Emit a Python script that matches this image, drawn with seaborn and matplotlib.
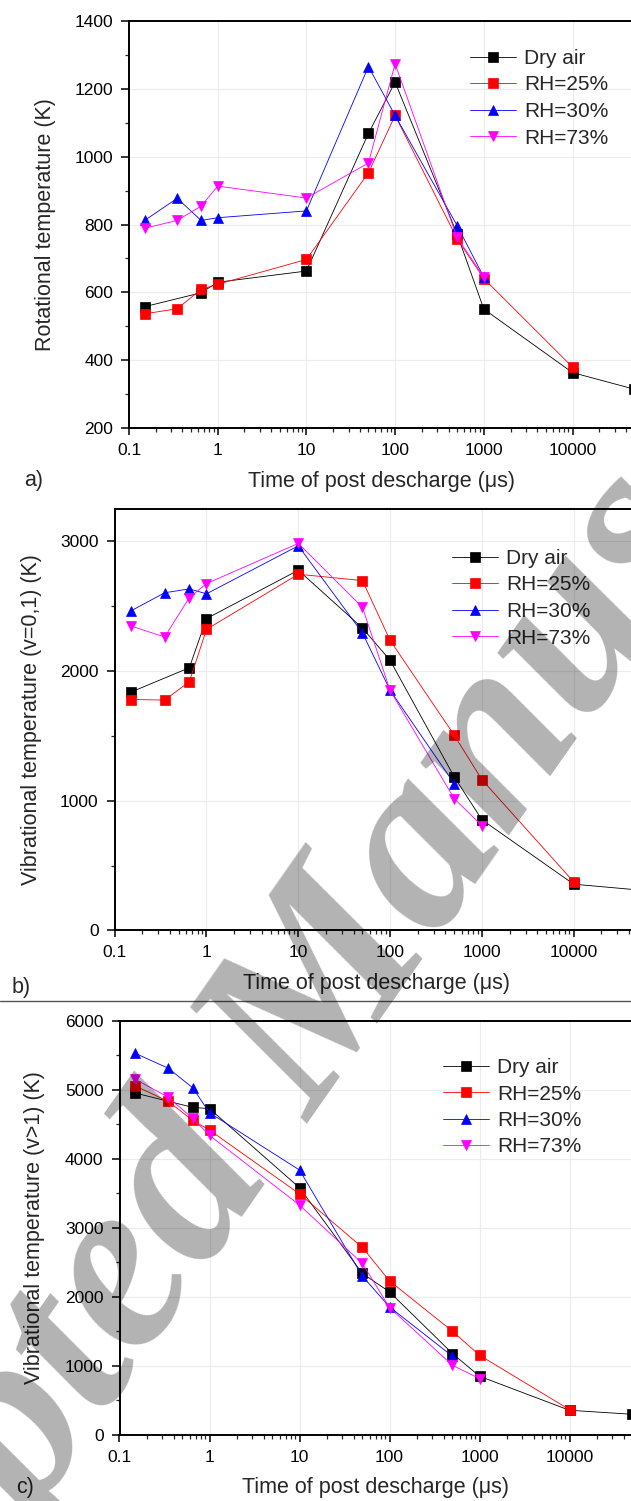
import numpy as np
import matplotlib
matplotlib.use("Agg")
import matplotlib.pyplot as plt
import seaborn as sns
from matplotlib.ticker import MultipleLocator, FuncFormatter, LogLocator, NullFormatter
from matplotlib.lines import Line2D

sns.set_style("ticks")
plt.rcParams['font.family'] = ['Liberation Sans', 'DejaVu Sans']

# ---------------- data ----------------
labels = ["Dry air", "RH=25%", "RH=30%", "RH=73%"]
colors = ["#000000", "#ff0000", "#0000ff", "#ff00ff"]
markers = ["s", "s", "^", "v"]

# panel a) rotational temperature
a_dry_x = [0.15, 0.65, 1, 10, 50, 100, 500, 1000, 10000, 50000]
a_dry_y = [558, 599, 630, 663, 1068, 1219, 772, 551, 364, 315]
a_rh25_x = [0.15, 0.35, 0.65, 1, 10, 50, 100, 500, 1000, 10000]
a_rh25_y = [537, 552, 609, 624, 697, 952, 1121, 758, 641, 380]
a_rh30_x = [0.15, 0.35, 0.65, 1, 10, 50, 100, 500, 1000]
a_rh30_y = [812, 877, 812, 820, 840, 1265, 1121, 797, 645]
a_rh73_x = [0.15, 0.35, 0.65, 1, 10, 50, 100, 500, 1000]
a_rh73_y = [789, 812, 854, 913, 878, 981, 1273, 762, 645]

# panel b) vibrational temperature (v=0,1)
b_dry_x = [0.15, 0.65, 1, 10, 50, 100, 500, 1000, 10000, 50000]
b_dry_y = [1838, 2026, 2405, 2778, 2332, 2083, 1184, 854, 357, 313]
b_rh25_x = [0.15, 0.35, 0.65, 1, 10, 50, 100, 500, 1000, 10000]
b_rh25_y = [1781, 1777, 1918, 2322, 2747, 2698, 2237, 1506, 1163, 375]
b_rh30_x = [0.15, 0.35, 0.65, 1, 10, 50, 100, 500]
b_rh30_y = [2464, 2604, 2634, 2596, 2966, 2294, 1852, 1132]
b_rh73_x = [0.15, 0.35, 0.65, 1, 10, 50, 100, 500, 1000]
b_rh73_y = [2348, 2263, 2567, 2675, 2985, 2492, 1851, 1016, 809]

# panel c) vibrational temperature (v>1)
c_dry_x = [0.15, 0.65, 1, 10, 50, 100, 500, 1000, 10000, 50000]
c_dry_y = [4952, 4745, 4726, 3581, 2339, 2073, 1180, 851, 358, 300]
c_rh25_x = [0.15, 0.35, 0.65, 1, 10, 50, 100, 500, 1000, 10000]
c_rh25_y = [5054, 4830, 4556, 4416, 3492, 2716, 2232, 1503, 1155, 368]
c_rh30_x = [0.15, 0.35, 0.65, 1, 10, 50, 100, 500]
c_rh30_y = [5527, 5310, 5029, 4667, 3837, 2300, 1855, 1141]
c_rh73_x = [0.15, 0.35, 0.65, 1, 10, 50, 100, 500, 1000]
c_rh73_y = [5151, 4890, 4586, 4340, 3330, 2484, 1846, 1010, 817]

xlabel = "Time of post descharge (μs)"
ylabels = ["Rotational temperature (K)",
           "Vibrational temperature (v=0,1) (K)",
           "Vibrational temperature (v>1) (K)"]
panel_tags = ["a)", "b)", "c)"]
watermark = "Accepted Manuscript"

# ---------------- layout (pixels) ----------------
W, H = 631, 1501
fig = plt.figure(figsize=(W / 100, H / 100), dpi=100)

panels = [
    dict(left=129.0, dec=88.7, top=20.7, bottom=428.3, ylim=(200, 1400), major=200, minor=100,
         series=[(a_dry_x, a_dry_y), (a_rh25_x, a_rh25_y), (a_rh30_x, a_rh30_y), (a_rh73_x, a_rh73_y)],
         ylab_x=46, leg=(470, 49), tag=(34, 481)),
    dict(left=114.7, dec=91.8, top=509.0, bottom=930.5, ylim=(0, 3250), major=1000, minor=500,
         series=[(b_dry_x, b_dry_y), (b_rh25_x, b_rh25_y), (b_rh30_x, b_rh30_y), (b_rh73_x, b_rh73_y)],
         ylab_x=32, leg=(452, 549), tag=(21, 987)),
    dict(left=119.5, dec=90.0, top=1020.7, bottom=1435.0, ylim=(0, 6000), major=1000, minor=500,
         series=[(c_dry_x, c_dry_y), (c_rh25_x, c_rh25_y), (c_rh30_x, c_rh30_y), (c_rh73_x, c_rh73_y)],
         ylab_x=35, leg=(443, 1058), tag=(25, 1488)),
]

xmin, xmax = 0.1, 5e4
ndec = np.log10(xmax / xmin)

for i, p in enumerate(panels):
    axw = p["dec"] * ndec
    axh = p["bottom"] - p["top"]
    ax = fig.add_axes([p["left"] / W, 1 - p["bottom"] / H, axw / W, axh / H])

    for (xs, ys), lab, col, mk in zip(p["series"], labels, colors, markers):
        ms = 6.6 if mk == "s" else 7.6
        sns.lineplot(x=xs, y=ys, ax=ax, color=col, marker=mk, markersize=ms,
                     markeredgecolor=col, markeredgewidth=0.5, linewidth=0.6,
                     label=lab, estimator=None, sort=False, clip_on=False)

    ax.set_xscale("log")
    ax.set_xlim(xmin, xmax)
    ax.set_ylim(*p["ylim"])
    ax.xaxis.set_major_locator(LogLocator(base=10, numticks=12))
    ax.xaxis.set_minor_locator(LogLocator(base=10, subs=np.arange(2, 10), numticks=30))
    ax.xaxis.set_major_formatter(FuncFormatter(lambda v, pos: f"{v:g}"))
    ax.xaxis.set_minor_formatter(NullFormatter())
    ax.yaxis.set_major_locator(MultipleLocator(p["major"]))
    ax.yaxis.set_minor_locator(MultipleLocator(p["minor"]))

    ax.tick_params(axis="both", which="major", labelsize=12.5, width=1.1, direction="out",
                   colors="k")
    ax.tick_params(axis="y", which="major", length=6, pad=5.5)
    ax.tick_params(axis="x", which="major", length=5, pad=5.5)
    ax.tick_params(axis="both", which="minor", length=3, width=0.9, direction="out")
    for s in ax.spines.values():
        s.set_linewidth(1.4)
        s.set_color("k")
    ax.grid(True, which="major", color="#ececec", linewidth=0.8)
    ax.set_axisbelow(True)

    ax.set_xlabel(xlabel, fontsize=15.5)
    ax.xaxis.set_label_coords(0.5, -53 / axh)
    ax.xaxis.label.set_va("center")
    ax.set_ylabel(ylabels[i], fontsize=15.5)
    ax.yaxis.set_label_coords((p["ylab_x"] - p["left"]) / axw, 0.5)
    ax.yaxis.label.set_va("center")

    hx, ty = p["leg"]
    ax.legend(loc="upper left", bbox_to_anchor=(hx / W, 1 - ty / H),
              bbox_transform=fig.transFigure, frameon=False, fontsize=15,
              handlelength=2.2, handletextpad=0.4, labelspacing=0.36,
              borderpad=0, borderaxespad=0, numpoints=1)

    tx, tyy = p["tag"]
    fig.text(tx / W, 1 - tyy / H, panel_tags[i], ha="center", va="center", fontsize=15.5)

# separator line between b and c
fig.add_artist(Line2D([0, 1], [1 - 1000.5 / H] * 2, transform=fig.transFigure,
                      color="#555555", linewidth=1.0))

# watermark (semi-transparent, on top)
fig.text(-248 / W, 1 - 1935 / H, watermark, rotation=55, rotation_mode="anchor",
         ha="left", va="baseline", fontsize=178, family="Liberation Serif", style="italic",
         fontweight="bold", color="k", alpha=0.3, zorder=10)

fig.savefig("out.png", dpi=100)
